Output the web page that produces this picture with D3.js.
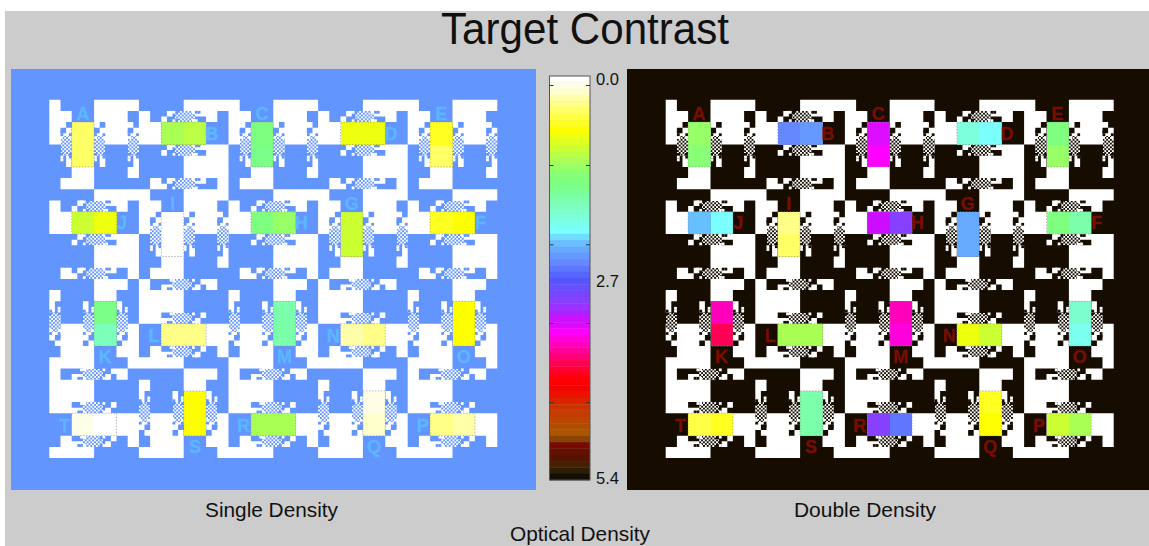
<!DOCTYPE html>
<html>
<head>
<meta charset="utf-8">
<script src="https://cdn.jsdelivr.net/npm/d3@7"></script>
<style>
  html, body { margin: 0; padding: 0; background: #fff; overflow: hidden; }
  svg { display: block; }
  text { font-family: "Liberation Sans", Arial, sans-serif; fill: #111; }
</style>
</head>
<body>
<div id="container"></div>
<script>
/* DATA */
// colormap bands, density 0.0 at the top of the bar to 5.4 at the bottom
const colormapBands = [
  "#ffffff", "#ffffe8", "#ffffcc", "#ffffaa", "#ffff88", "#ffff66", "#ffff44", "#ffff22",
  "#ffff00", "#eeff11", "#ddff22", "#ccff33", "#bbff44", "#aaff55", "#99ff66", "#88ff77",
  "#7fff7f", "#7cff88", "#7cff99", "#7cffaa", "#7cffbb", "#7cffcc", "#7cffdd", "#7cffee",
  "#7cffff", "#70dcff", "#66c0ff", "#66aaff", "#6699ff", "#6688ff", "#5f77ff", "#5566ff",
  "#5555ff", "#6650ff", "#7744ff", "#8840ff", "#9933ff", "#aa22ff", "#cc11ff", "#dd08ff",
  "#ff00ff", "#ff00dd", "#ff00bb", "#ff0099", "#ff0077", "#ff0055", "#ff0033", "#ff0011",
  "#ff0000", "#f00500", "#ee1100", "#dd2200", "#cc3300", "#c43c00", "#bb4400", "#b04c00",
  "#aa5500", "#884400", "#770a00", "#661000", "#551400", "#442000", "#2a1e05", "#140f05"
];
const colorbarTickValues = [0.12, 1.19, 2.25, 3.3, 4.36];
const colorbarLabelValues = [0, 2.7, 5.4];

// target letters with their place in the 5 x 4 tile layout
const targetLetters = ["A", "B", "C", "D", "E", "J", "I", "H", "G", "F", "K", "L", "M", "N", "O", "T", "S", "R", "Q", "P"];
const targetCols = [0, 1, 2, 3, 4, 0, 1, 2, 3, 4, 0, 1, 2, 3, 4, 0, 1, 2, 3, 4];
const targetRows = [0, 0, 0, 0, 0, 1, 1, 1, 1, 1, 2, 2, 2, 2, 2, 3, 3, 3, 3, 3];

// optical density of the two halves of each target, same order as targetLetters
const densitySingle = [
  [0.46, 0.46], [1.14, 1.05], [1.39, 1.48], [0.80, 0.80], [0.63, 0.46],
  [0.97, 0.80], [0.04, 0.04], [1.39, 1.22], [0.97, 0.97], [0.63, 0.72],
  [1.48, 1.73], [0.38, 0.38], [1.64, 1.64], [0.30, 0.38], [0.72, 0.72],
  [0.13, 0.04], [0.72, 0.72], [1.14, 1.14], [0.13, 0.21], [0.38, 0.30]
];
const densityDouble = [
  [1.22, 1.31], [2.49, 2.41], [3.33, 3.42], [1.90, 2.07], [1.39, 1.22],
  [2.24, 2.07], [0.38, 0.46], [3.25, 2.99], [2.32, 2.32], [1.39, 1.64],
  [3.55, 3.84], [1.14, 1.14], [3.59, 3.50], [0.80, 0.97], [1.81, 1.98],
  [0.55, 0.63], [1.64, 1.64], [2.99, 2.57], [0.63, 0.72], [0.97, 1.14]
];

// one 16 x 16 tile of the white pattern, # is white. the other tiles are made from this one
const tileRows = [
  "##......########",
  "##......########",
  "####....######..",
  "####....######..",
  "###.....#.#####.",
  "##.#.....#####.#",
  "####....########",
  "####....########",
  "................",
  "................",
  "...#.....#.....#",
  "...#.....#.....#",
  "....####......##",
  "....####......##",
  "..######........",
  "..######........"
];
// checker ovals: centre column in tile cells, then half width of each half-cell row
const ovalCols = [3, 9, 15];
const ovalTop = 6.5;
const ovalWidths = [0.5, 1, 1, 1, 1, 1, 0.5];
// small half-cell squares on the rim of an oval: column offset, row, on the white or on the dark side
const rimSquares = [
  [-1, 6, "dark"], [0.5, 6, "dark"], [-1, 5.5, "dark"],
  [-1, 10, "light"], [0.5, 10, "dark"], [-1, 10.5, "light"]
];

/* CONSTANTS */
const width = 1149, height = 546;
const gridCols = 80, gridRows = 64, tileSize = 16;
const panelY = 69, panelH = 421;

const svg = d3.select("#container").append("svg")
  .attr("width", width)
  .attr("height", height);

const defs = svg.append("defs");

svg.append("rect")
  .attr("x", 5).attr("y", 11)
  .attr("width", width - 5).attr("height", height - 11)
  .attr("fill", "#cccccc");

// tiles: V has a vertical target, H is the inverted transpose of V, lower rows are turned 180 degrees
function isWhite(col, row, r, c) {
  const turned = row >= 2;
  const rr = turned ? tileSize - 1 - r : r;
  const cc = turned ? tileSize - 1 - c : c;
  const vertical = (col + row) % 2 === 0;
  return vertical ? tileRows[rr][cc] === "#" : tileRows[cc][rr] !== "#";
}

const densityColor = d3.scaleQuantize().domain([0, 5.4]).range(colormapBands);

function drawPanel(id, x0, x1, originX, bg, letterColor, densities) {
  const g = svg.append("g").attr("filter", "url(#soft)");

  g.append("rect")
    .attr("x", x0).attr("y", panelY)
    .attr("width", x1 - x0).attr("height", panelH)
    .attr("fill", bg);

  const xScale = d3.scaleLinear().domain([0, gridCols]).range([originX, originX + 448]);
  const yScale = d3.scaleLinear().domain([0, gridRows]).range([99.7, 99.7 + 358.4]);

  // white mask, joined into runs so there are no seams between the cells
  const mask = d3.path();
  for (let gr = 0; gr < gridRows; gr++) {
    let start = null;
    for (let gc = 0; gc <= gridCols; gc++) {
      const on = gc < gridCols && isWhite(Math.floor(gc / tileSize), Math.floor(gr / tileSize), gr % tileSize, gc % tileSize);
      if (on && start === null) start = gc;
      if (!on && start !== null) {
        mask.rect(xScale(start), yScale(gr), xScale(gc) - xScale(start), yScale(gr + 1) - yScale(gr));
        start = null;
      }
    }
  }
  g.append("path").attr("d", mask.toString()).attr("fill", "#ffffff");

  // fine checker used in the ovals
  const cell = (xScale(1) - xScale(0)) / 3;
  const pattern = defs.append("pattern")
    .attr("id", "check-" + id)
    .attr("patternUnits", "userSpaceOnUse")
    .attr("x", originX).attr("y", 99.7)
    .attr("width", cell * 2).attr("height", cell * 2);
  pattern.append("rect").attr("width", cell * 2).attr("height", cell * 2).attr("fill", bg);
  pattern.append("rect").attr("width", cell).attr("height", cell).attr("fill", "#fff");
  pattern.append("rect").attr("x", cell).attr("y", cell).attr("width", cell).attr("height", cell).attr("fill", "#fff");

  // ovals and rim squares for all tiles, made in V coordinates then moved to the tile
  const ovalBlocks = [];
  const rimBlocks = [];
  d3.range(4).forEach(row => d3.range(5).forEach(col => {
    const vertical = (col + row) % 2 === 0;
    const turned = row >= 2;
    const place = (c0, c1, r0, r1) => {
      let a = vertical ? [c0, c1, r0, r1] : [r0, r1, c0, c1];
      if (turned) a = [tileSize - a[1], tileSize - a[0], tileSize - a[3], tileSize - a[2]];
      return {
        x0: col * tileSize + a[0],
        x1: col * tileSize + a[1],
        y0: row * tileSize + a[2],
        y1: row * tileSize + a[3]
      };
    };
    ovalCols.forEach(oc => {
      ovalWidths.forEach((w, k) => {
        ovalBlocks.push(place(oc - w, oc + w, ovalTop + k / 2, ovalTop + k / 2 + 0.5));
      });
      rimSquares.forEach(([dc, r, side]) => {
        // the H tiles are inverted, so the two sides swap colour there
        const dark = side === "dark";
        rimBlocks.push({ ...place(oc + dc, oc + dc + 0.5, r, r + 0.5), white: vertical ? !dark : dark });
      });
    });
  }));

  const blockAttrs = sel => sel
    .attr("x", d => xScale(d.x0))
    .attr("y", d => yScale(d.y0))
    .attr("width", d => xScale(d.x1) - xScale(d.x0))
    .attr("height", d => yScale(d.y1) - yScale(d.y0));

  g.selectAll(".rim")
    .data(rimBlocks)
    .join("rect")
    .attr("class", "rim")
    .call(blockAttrs)
    .attr("fill", d => d.white ? "#fff" : bg);

  g.selectAll(".oval")
    .data(ovalBlocks)
    .join("rect")
    .attr("class", "oval")
    .call(blockAttrs)
    .attr("shape-rendering", "crispEdges")
    .attr("fill", `url(#check-${id})`);

  // targets: two halves plus the letter
  const targets = targetLetters.map((letter, i) => {
    const col = targetCols[i], row = targetRows[i];
    const vertical = (col + row) % 2 === 0;
    const turned = row >= 2;
    const left = col * tileSize + 4 + (vertical && turned ? 4 : 0);
    const top = row * tileSize + 4 + (!vertical && turned ? 4 : 0);
    // letter sits above, right, below or left of the target
    const lx = vertical ? (turned ? 10 : 6) : (turned ? 2.7 : 13);
    const ly = vertical ? (turned ? 13.9 : 2.5) : (turned ? 10.1 : 6);
    return {
      letter, vertical, left, top,
      d: densities[i],
      lx: col * tileSize + lx,
      ly: row * tileSize + ly
    };
  });

  const halves = targets.flatMap(t => t.d.map((v, k) => ({
    v,
    x: t.left + (t.vertical ? 0 : k * 4),
    y: t.top + (t.vertical ? k * 4 : 0)
  })));

  g.selectAll(".half")
    .data(halves)
    .join("rect")
    .attr("class", "half")
    .attr("x", d => xScale(d.x))
    .attr("y", d => yScale(d.y))
    .attr("width", xScale(4) - xScale(0))
    .attr("height", yScale(4) - yScale(0))
    .attr("shape-rendering", "crispEdges")
    .attr("fill", d => densityColor(d.v));

  g.selectAll(".outline")
    .data(targets)
    .join("rect")
    .attr("class", "outline")
    .attr("x", d => xScale(d.left))
    .attr("y", d => yScale(d.top))
    .attr("width", d => xScale(d.vertical ? 4 : 8) - xScale(0))
    .attr("height", d => yScale(d.vertical ? 8 : 4) - yScale(0))
    .attr("fill", "none")
    .attr("stroke", "#8c8c8c")
    .attr("stroke-opacity", 0.6)
    .attr("stroke-dasharray", "1.5,1.5");

  g.selectAll(".letter")
    .data(targets)
    .join("text")
    .attr("class", "letter")
    .attr("x", d => xScale(d.lx))
    .attr("y", d => yScale(d.ly))
    .attr("dy", "0.36em")
    .attr("text-anchor", "middle")
    .attr("font-size", 18)
    .attr("font-weight", "bold")
    .attr("stroke", letterColor)
    .attr("stroke-width", 0.4)
    .style("fill", letterColor)
    .text(d => d.letter);
}

const soft = defs.append("filter").attr("id", "soft")
  .attr("x", 0).attr("y", 0).attr("width", 1).attr("height", 1);
soft.append("feGaussianBlur").attr("stdDeviation", 0.3);

drawPanel("single", 11, 536, 49.3, "#6495ff", "#5cb6ff", densitySingle);
drawPanel("double", 627, 1149, 665.7, "#140f05", "#7a0a00", densityDouble);

/* COLORBAR */
const barX = 549.5, barW = 40.5, barTop = 76, barBottom = 480;
const bandScale = d3.scaleBand()
  .domain(d3.range(colormapBands.length))
  .range([barTop, barBottom]);

svg.selectAll(".band")
  .data(colormapBands)
  .join("rect")
  .attr("class", "band")
  .attr("x", barX)
  .attr("y", (d, i) => bandScale(i))
  .attr("width", barW)
  .attr("height", bandScale.bandwidth() + 0.3)
  .attr("fill", d => d);

svg.append("rect")
  .attr("x", barX).attr("y", barTop)
  .attr("width", barW).attr("height", barBottom - barTop)
  .attr("fill", "none")
  .attr("stroke", "#555");

const barScale = d3.scaleLinear().domain([0, 5.4]).range([barTop, barBottom]);

[[d3.axisLeft, barX], [d3.axisRight, barX + barW]].forEach(([axis, x]) => {
  const a = svg.append("g")
    .attr("transform", `translate(${x},0)`)
    .call(axis(barScale).tickValues(colorbarTickValues).tickSize(-4).tickFormat(""));
  a.select(".domain").remove();
  a.selectAll("line").attr("stroke", "#333");
});

const labelScale = d3.scaleLinear().domain([0, 2.7, 5.4]).range([79.5, 281, 478]);
const labelAxis = svg.append("g")
  .attr("transform", `translate(${barX + barW},0)`)
  .call(d3.axisRight(labelScale).tickValues(colorbarLabelValues).tickSize(0).tickPadding(6).tickFormat(d3.format(".1f")));
labelAxis.select(".domain").remove();
labelAxis.selectAll("text")
  .attr("font-size", 16.5)
  .style("font-family", '"Liberation Sans", Arial, sans-serif');

/* TITLES */
const captions = [
  { t: "Target Contrast", x: 585, y: 44, s: 44, w: 288 },
  { t: "Single Density", x: 271.5, y: 517, s: 20.6, w: 133 },
  { t: "Double Density", x: 865, y: 517, s: 20.8, w: 142 },
  { t: "Optical Density", x: 580, y: 541, s: 20.8, w: 140 }
];
svg.selectAll(".caption")
  .data(captions)
  .join("text")
  .attr("class", "caption")
  .attr("x", d => d.x)
  .attr("y", d => d.y)
  .attr("text-anchor", "middle")
  .attr("font-size", d => d.s)
  .attr("textLength", d => d.w)
  .attr("lengthAdjust", "spacingAndGlyphs")
  .text(d => d.t);
</script>
</body>
</html>
